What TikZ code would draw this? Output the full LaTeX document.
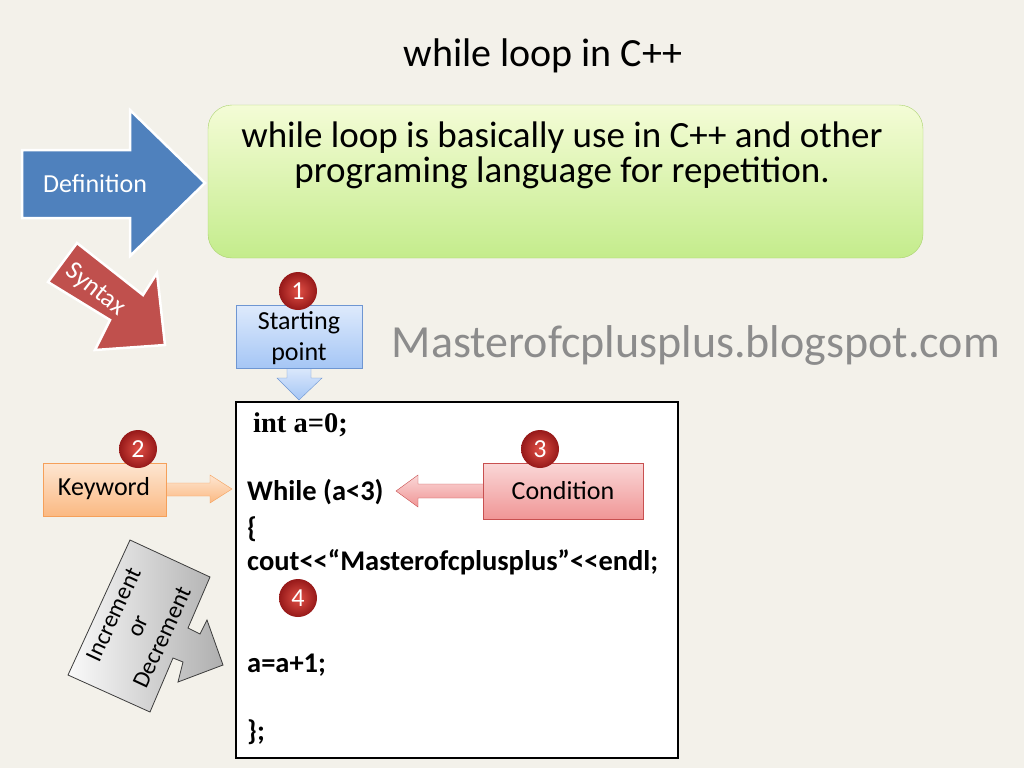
\documentclass[tikz,border=0pt]{standalone}
\usepackage{fontspec}
\setmainfont{Carlito}
\newfontfamily\timesf{Liberation Serif}
\begin{document}
\begin{tikzpicture}[x=1pt,y=-1pt,
  badge/.style={circle,minimum size=38pt,inner sep=0pt,inner color={rgb,255:red,225;green,80;blue,70},outer color={rgb,255:red,150;green,25;blue,25},text=white,font=\fontsize{26}{26}\selectfont},
  codeline/.style={anchor=west,inner sep=0pt,font=\fontsize{28.5}{32}\selectfont\bfseries},
  lbl/.style={font=\fontsize{26}{31}\selectfont,align=center}]
\definecolor{bg}{RGB}{243,241,234}
\fill[bg] (0,0) rectangle (1024,768);
\useasboundingbox (0,0) rectangle (1024,768);
\node (title) at (543,56) {\fontsize{40}{46}\selectfont while loop in C++};
% definition arrow
\filldraw[fill={rgb,255:red,79;green,129;blue,189},draw=white,line width=2.5pt]
 (22,150) -- (130,150) -- (130,110) -- (205,183) -- (130,256) -- (130,218) -- (22,218) -- cycle;
\node[text=white,lbl] (def) at (95,184) {Definition};
% green box
\shade[top color={rgb,255:red,244;green,252;blue,214},bottom color={rgb,255:red,196;green,236;blue,140},rounded corners=24pt]
 (208,105) rectangle (923,258);
\draw[draw={rgb,255:red,170;green,210;blue,110},rounded corners=24pt] (208,105) rectangle (923,258);
\node[align=center,font=\fontsize{37}{35}\selectfont] (defn) at (562,155) {while loop is basically use in C++ and other\\programing language for repetition.};
% syntax arrow
\filldraw[fill={rgb,255:red,192;green,80;blue,77},draw=white,line width=2.5pt]
 (48,282) -- (77,243) -- (143,295) -- (157,273) -- (165,345) -- (95,350) -- (110,320) -- cycle;
\node[text=white,lbl,rotate=-38] (syn) at (95,290) {Syntax};
% watermark
\node[text={rgb,255:red,140;green,140;blue,140}] (wm) at (696,345) {\fontsize{46}{50}\selectfont Masterofcplusplus.blogspot.com};
% starting point
\shade[top color={rgb,255:red,222;green,234;blue,252},bottom color={rgb,255:red,165;green,198;blue,245}]
 (287,366) -- (311,366) -- (311,378) -- (322,378) -- (299,400) -- (277,378) -- (287,378) -- cycle;
\draw[draw={rgb,255:red,110;green,150;blue,210}]
 (287,368) -- (287,378) -- (277,378) -- (299,400) -- (322,378) -- (311,378) -- (311,368);
\shade[top color={rgb,255:red,222;green,234;blue,252},bottom color={rgb,255:red,165;green,198;blue,245}] (236,305) rectangle (362,368);
\draw[draw={rgb,255:red,110;green,150;blue,210}] (236,305) rectangle (362,368);
\node[lbl] (sp) at (299,338) {Starting\\point};
% code box
\draw[fill=white,line width=2.5pt] (236,402) rectangle (678,758);
\node[codeline,font=\fontsize{28.5}{32}\selectfont\timesf\bfseries] (c1) at (253,425) {int a=0;};
\node[codeline] (c2) at (247,492) {While (a<3)};
\node[codeline] (c3) at (247,529) {\{};
\node[codeline] (c4) at (247,562) {cout<{}<“Masterofcplusplus”<{}<endl;};
\node[codeline] (c5) at (247,665) {a=a+1;};
\node[codeline] (c6) at (247,732) {\};};
% keyword
\shade[top color={rgb,255:red,253;green,230;blue,210},bottom color={rgb,255:red,251;green,185;blue,130}]
 (164,483) -- (210,483) -- (210,475) -- (232,489) -- (210,503) -- (210,496) -- (164,496) -- cycle;
\draw[draw={rgb,255:red,245;green,160;blue,90}]
 (166,483) -- (210,483) -- (210,475) -- (232,489) -- (210,503) -- (210,496) -- (166,496);
\shade[top color={rgb,255:red,253;green,230;blue,210},bottom color={rgb,255:red,251;green,185;blue,130}] (43,463) rectangle (166,516);
\draw[draw={rgb,255:red,245;green,160;blue,90}] (43,463) rectangle (166,516);
\node[lbl] (kw) at (104,489) {Keyword};
% condition
\shade[top color={rgb,255:red,250;green,215;blue,215},bottom color={rgb,255:red,240;green,150;blue,150}]
 (485,484) -- (418,484) -- (418,475) -- (396,491) -- (418,507) -- (418,498) -- (485,498) -- cycle;
\draw[draw={rgb,255:red,200;green,80;blue,80}]
 (483,484) -- (418,484) -- (418,475) -- (396,491) -- (418,507) -- (418,498) -- (483,498);
\shade[top color={rgb,255:red,250;green,215;blue,215},bottom color={rgb,255:red,240;green,150;blue,150}] (483,463) rectangle (643,519);
\draw[draw={rgb,255:red,200;green,80;blue,80}] (483,463) rectangle (643,519);
\node[lbl] (cond) at (563,491) {Condition};
% increment arrow
\shade[left color={rgb,255:red,250;green,250;blue,250},right color={rgb,255:red,175;green,175;blue,175}]
 (130,540) -- (210,577) -- (188,628) -- (200,634) -- (207,620) -- (223,665) -- (178,682) -- (183,662) -- (173,658) -- (150,712) -- (68,675) -- cycle;
\draw[thick,draw={rgb,255:red,60;green,60;blue,60}]
 (130,540) -- (210,577) -- (188,628) -- (200,634) -- (207,620) -- (223,665) -- (178,682) -- (183,662) -- (173,658) -- (150,712) -- (68,675) -- cycle;
\node[lbl,rotate=65,font=\fontsize{24}{27}\selectfont] (inc) at (138,626) {Increment\\or\\Decrement};
% badges
\node[badge] (b1) at (298,291) {1};
\node[badge] (b2) at (138,449) {2};
\node[badge] (b3) at (540,449) {3};
\node[badge] (b4) at (298,598) {4};
\end{tikzpicture}
\end{document}
